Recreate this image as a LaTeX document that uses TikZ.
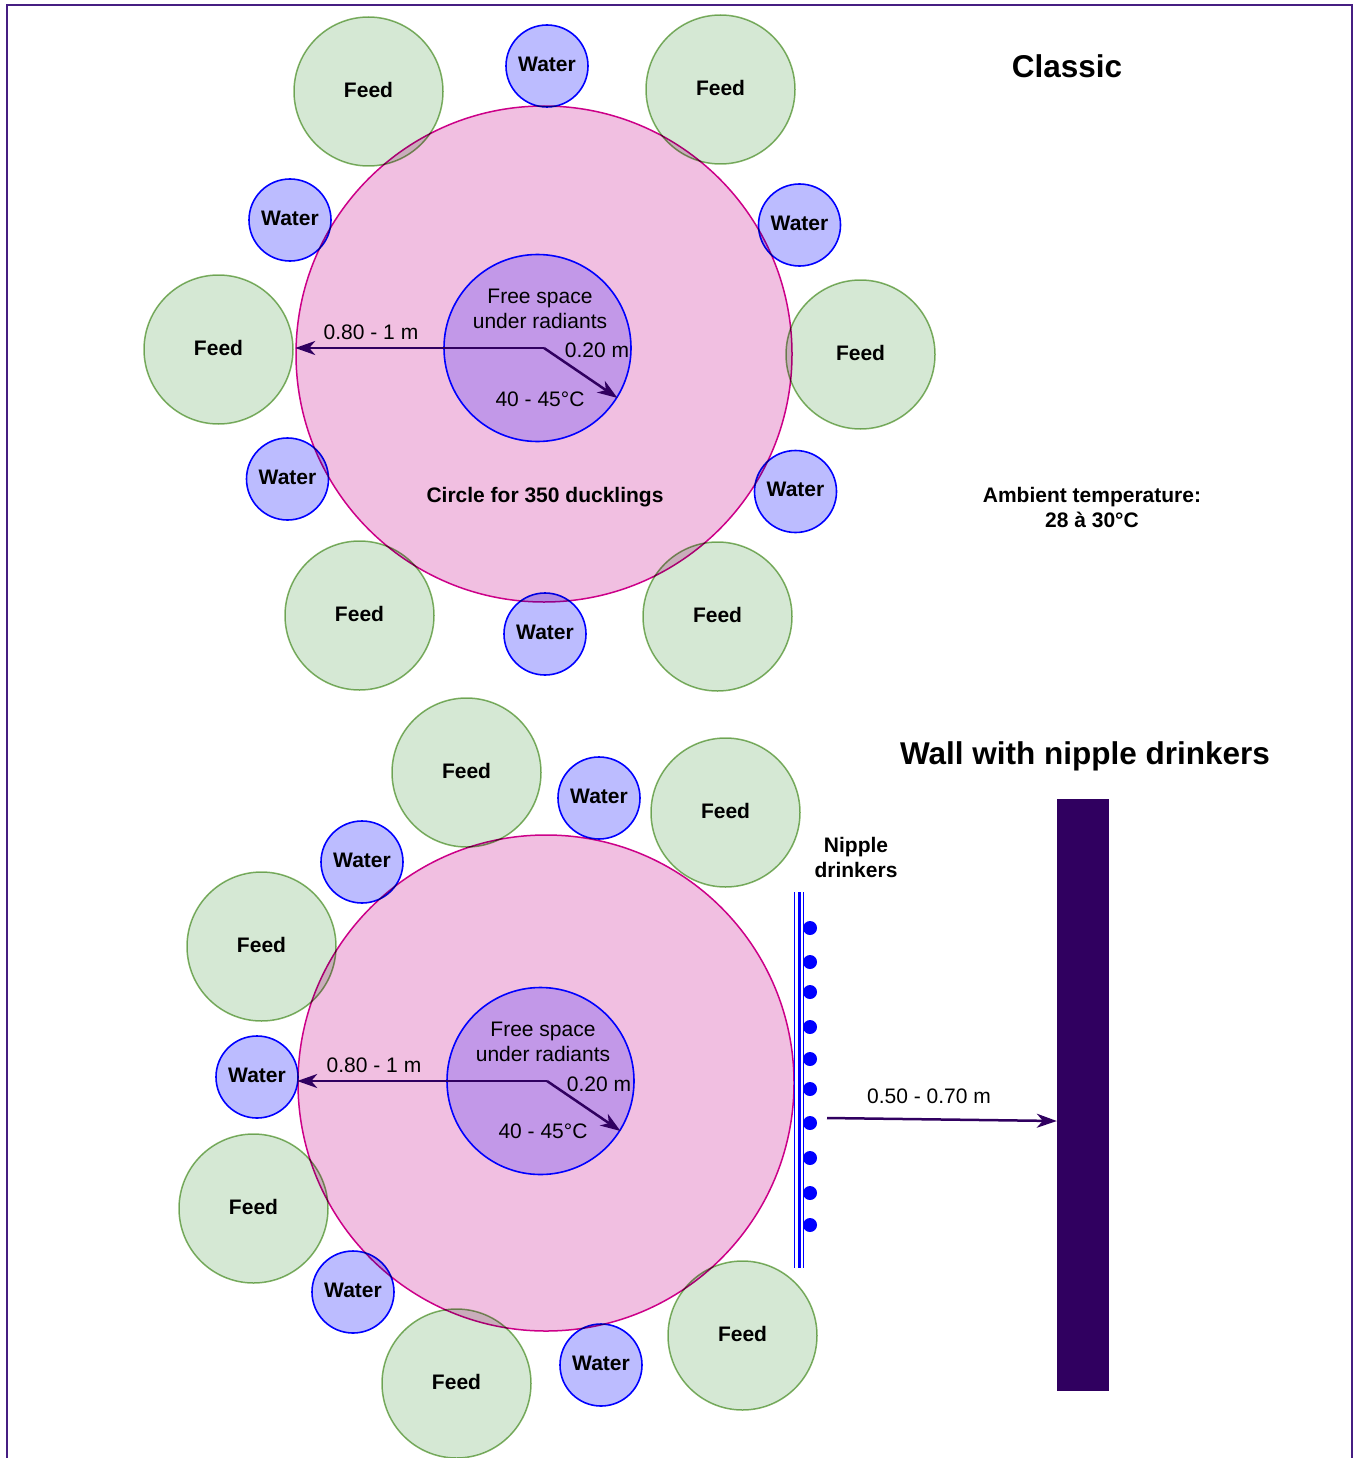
\documentclass[tikz,border=0pt]{standalone}
\usepackage{fontspec}
\setmainfont{Liberation Sans}
\usetikzlibrary{arrows.meta}
\definecolor{feedfill}{RGB}{213,232,212}
\definecolor{feedline}{RGB}{130,179,102}
\definecolor{waterfill}{RGB}{188,188,255}
\definecolor{ringfill}{RGB}{241,191,225}
\definecolor{ringline}{RGB}{204,0,136}
\definecolor{warmfill}{RGB}{194,152,232}
\definecolor{wallc}{RGB}{48,0,96}
\definecolor{framec}{RGB}{70,30,130}

\tikzset{
  feed/.style={circle,draw=feedline,fill=feedfill,line width=1.5pt,minimum size=149pt,inner sep=0pt,
    text depth=4pt,font=\bfseries\fontsize{21}{25}\selectfont,blend mode=multiply},
  water/.style={circle,draw=blue,fill=waterfill,line width=1.6pt,minimum size=82pt,inner sep=0pt,
    text depth=4pt,font=\bfseries\fontsize{21}{25}\selectfont,blend mode=multiply},
  ring/.style={circle,draw=ringline,fill=ringfill,line width=1.5pt,minimum size=496pt,inner sep=0pt},
  warm/.style={circle,draw=blue,fill=warmfill,line width=1.6pt,minimum size=187pt,inner sep=0pt},
  dim/.style={-{Stealth[length=20pt,width=14pt,inset=6pt]},draw=wallc,line width=2.5pt},
  txt/.style={font=\fontsize{21}{25}\selectfont,align=center,inner sep=0pt},
  btxt/.style={txt,font=\bfseries\fontsize{21}{25}\selectfont},
  heading/.style={font=\bfseries\fontsize{31.5}{36}\selectfont,inner sep=0pt}
}

\begin{document}
\begin{tikzpicture}[x=1pt,y=-1pt]
  \useasboundingbox (0,0) rectangle (1355,1458);
  \draw[framec,line width=2.2pt] (7,5) rectangle (1352,1480);

  % classic layout
  \node[ring] (ringA) at (544,354) {};
  \node[warm] (inA) at (537.5,348) {};
  \foreach \n/\x/\y in {fa1/368.5/91.5,fa2/720.5/89.5,fa3/218.5/349.5,fa4/860.5/354.5,fa5/359.5/615.5,fa6/717.5/616.5}
    \node[feed] (\n) at (\x,\y) {Feed};
  \foreach \n/\x/\y in {wa1/547/66,wa2/290/220,wa3/799.5/225,wa4/287.5/479,wa5/795.5/491.5,wa6/545/634}
    \node[water] (\n) at (\x,\y) {Water};
  \coordinate (oA) at (544,348);
  \draw[dim] (oA) -- (oA -| ringA.west);
  \draw[dim] (oA) -- (inA.-32);
  \node[txt] (freeA) at (540,309) {Free space\\under radiants};
  \node[txt] (distA) at (371,332) {0.80 - 1 m};
  \node[txt] (radA) at (597,350) {0.20 m};
  \node[txt] (tempA) at (540,399) {40 - 45°C};
  \node[btxt] (circA) at (545,497) {Circle for 350 ducklings};
  \node[heading] (classic) at (1067,66) {Classic};
  \node[btxt] (ambient) at (1092,508) {Ambient temperature:\\28 à 30°C};

  % wall layout
  \node[ring] (ringB) at (546,1083) {};
  \node[warm] (inB) at (540.5,1081) {};
  \foreach \n/\x/\y in {fb1/466.5/772.5,fb2/725.5/812.5,fb3/261.5/946.5,fb4/253.5/1208.5,fb5/456.5/1383.5,fb6/742.5/1335.5}
    \node[feed] (\n) at (\x,\y) {Feed};
  \foreach \n/\x/\y in {wb1/599/798,wb2/362/862,wb3/257/1077,wb4/353/1292,wb5/601/1365}
    \node[water] (\n) at (\x,\y) {Water};
  \coordinate (oB) at (547,1081);
  \draw[dim] (oB) -- (oB -| ringB.west);
  \draw[dim] (oB) -- (inB.-32);
  \node[txt] (freeB) at (543,1042) {Free space\\under radiants};
  \node[txt] (distB) at (374,1065) {0.80 - 1 m};
  \node[txt] (radB) at (599,1084) {0.20 m};
  \node[txt] (tempB) at (543,1131) {40 - 45°C};

  % nipple line and wall
  \draw[blue,line width=1pt] (794,892) -- (794,1268);
  \draw[blue,line width=3pt] (799,892) -- (799,1268);
  \draw[blue,line width=1pt] (803,892) -- (803,1268);
  \foreach \y in {928,962,992,1027,1059,1089,1123,1158,1193,1225}
    \fill[blue] (810,\y) circle (7);
  \node[btxt] (nipple) at (856,857) {Nipple\\drinkers};
  \node[fill=wallc,minimum width=52pt,minimum height=592pt,inner sep=0pt] (wall) at (1083,1095) {};
  \coordinate (nipB) at (827,1118);
  \draw[dim] (nipB) -- ([yshift=-26pt]wall.west);
  \node[txt] (gap) at (929,1096) {0.50 - 0.70 m};
  \node[heading] (walltitle) at (1085,756) {Wall with nipple drinkers};
\end{tikzpicture}
\end{document}
